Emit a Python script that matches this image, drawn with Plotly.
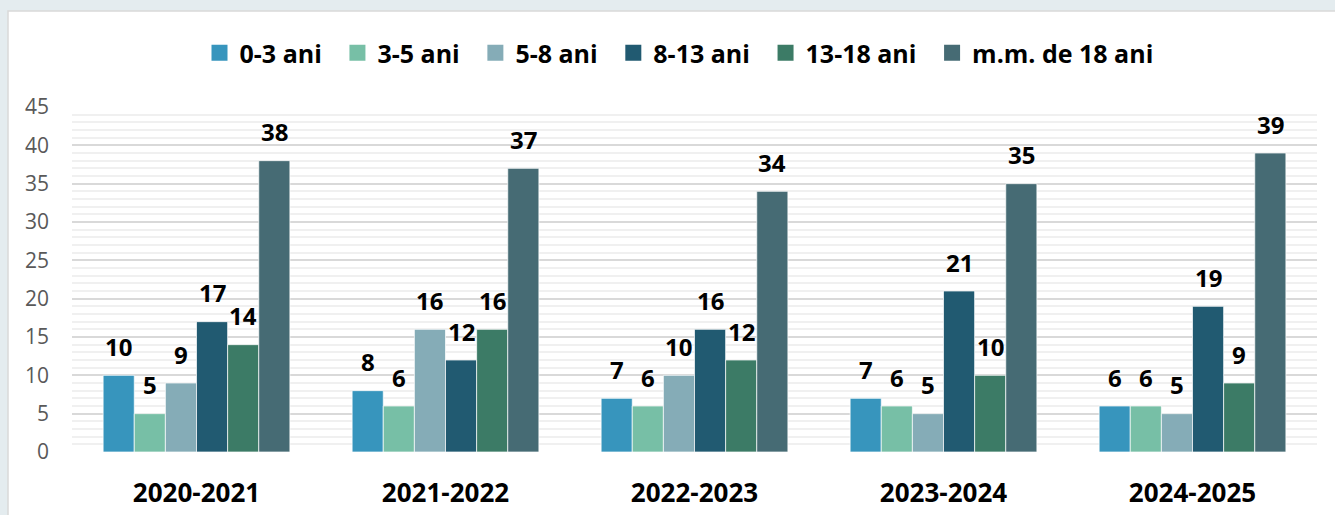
import plotly.graph_objects as go

categories = ["2020-2021", "2021-2022", "2022-2023", "2023-2024", "2024-2025"]
series_names = ["0-3 ani", "3-5 ani", "5-8 ani", "8-13 ani", "13-18 ani", "m.m. de 18 ani"]
v_0_3 = [10, 8, 7, 7, 6]
v_3_5 = [5, 6, 6, 6, 6]
v_5_8 = [9, 16, 10, 5, 5]
v_8_13 = [17, 12, 16, 21, 19]
v_13_18 = [14, 16, 12, 10, 9]
v_18p = [38, 37, 34, 35, 39]
series_values = [v_0_3, v_3_5, v_5_8, v_8_13, v_13_18, v_18p]
colors = ["#3795BD", "#77BFA6", "#85ACB7", "#215A71", "#3C7B66", "#466B74"]
y_ticks = [0, 5, 10, 15, 20, 25, 30, 35, 40, 45]

FONT = "Open Sans"
W, H = 1335, 515
ML, MR, MT, MB = 72, 18, 107, 63
BARGAP = 0.25
n = len(series_names)
bw = (1 - BARGAP) / n

fig = go.Figure()
idx = list(range(len(categories)))
for i, (name, vals, col) in enumerate(zip(series_names, series_values, colors)):
    fig.add_trace(go.Bar(
        x=idx, y=vals, name=name, showlegend=False,
        marker=dict(color=col, line=dict(color="rgba(255,255,255,0.7)", width=1)),
    ))
    # legend proxy
    fig.add_trace(go.Scatter(
        x=[None], y=[None], mode="markers", name=name + "\u00a0\u2009",
        marker=dict(symbol="square", size=16, color=col),
    ))
    for j, v in enumerate(vals):
        fig.add_annotation(
            x=j + (i - (n - 1) / 2) * bw, y=v, xref="x", yref="y",
            text=f"<b>{v}</b>", showarrow=False, yshift=29,
            xanchor="center", yanchor="middle",
            font=dict(family=FONT, size=24, color="#000000"),
        )

pw = W - ML - MR
ph = H - MT - MB
fig.add_shape(
    type="rect", xref="paper", yref="paper", layer="below",
    x0=(8 - ML) / pw, x1=(W + 5 - ML) / pw,
    y0=(H - MB - (H + 5)) / ph, y1=(H - MB - 11) / ph,
    fillcolor="#ffffff", line=dict(color="#d9d9d9", width=1.5),
)

fig.update_layout(
    width=W, height=H,
    margin=dict(l=ML, r=MR, t=MT, b=MB, autoexpand=False),
    paper_bgcolor="#e4ecef",
    plot_bgcolor="rgba(0,0,0,0)",
    barmode="group", bargap=BARGAP, bargroupgap=0,
    font=dict(family=FONT, color="#000000"),
    legend=dict(
        orientation="h", x=0.5 + 17 / W, xanchor="center", xref="container",
        y=1 - 53 / H, yanchor="middle", yref="container",
        font=dict(family=FONT, size=25, color="#000000", weight="bold"),
        bgcolor="rgba(0,0,0,0)",
    ),
    xaxis=dict(
        tickmode="array", tickvals=idx, ticktext=[f"<b>{c}</b>" for c in categories],
        range=[-0.5, len(categories) - 0.5],
        tickfont=dict(family=FONT, size=26, color="#000000"),
        showgrid=False, zeroline=False, showline=False, ticks="",
        ticklabelstandoff=23, automargin=False,
    ),
    yaxis=dict(
        range=[0, 45], tickvals=y_ticks,
        tickfont=dict(family=FONT, size=21, color="#595959"),
        showgrid=True, gridcolor="#d9d9d9", gridwidth=2,
        minor=dict(dtick=1, showgrid=True, gridcolor="#f0f0f0", gridwidth=2),
        zeroline=False, showline=False, ticks="",
        ticklabelstandoff=22, automargin=False,
    ),
)

fig.write_html(
    "out.html",
    config={"displayModeBar": False},
    post_script="document.body.style.margin='0';document.body.style.background='#e4ecef';",
)
